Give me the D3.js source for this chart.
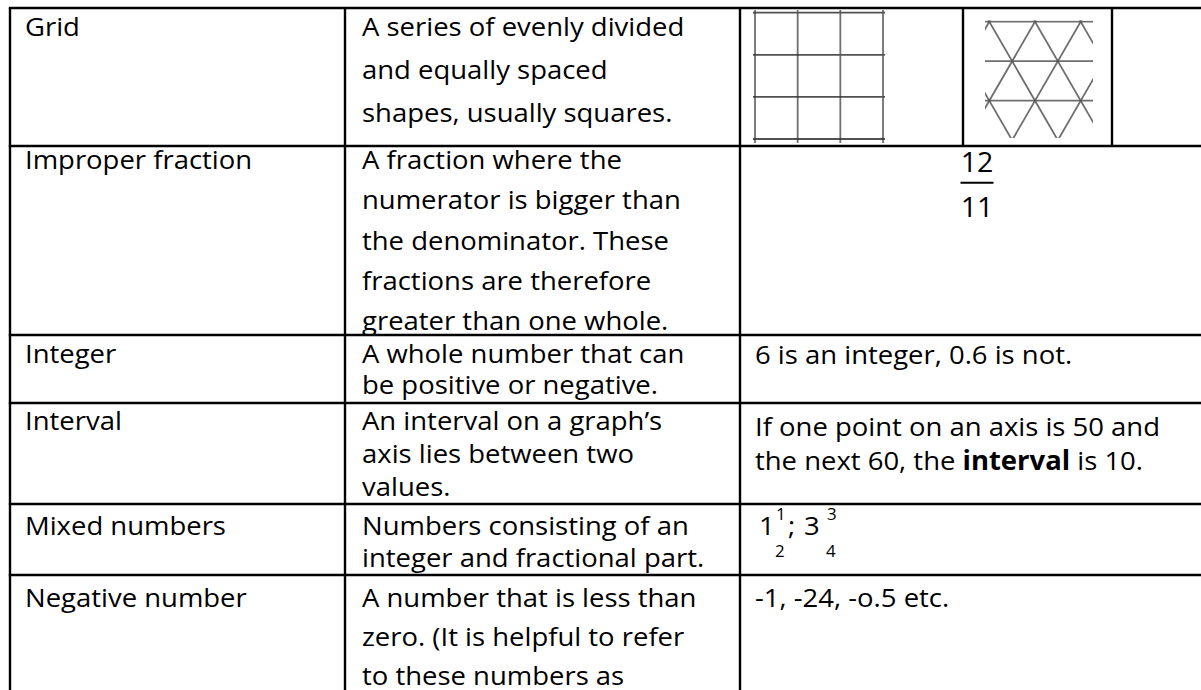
<!DOCTYPE html>
<html><head><meta charset="utf-8">
<script src="https://cdn.jsdelivr.net/npm/d3@7"></script>
<style>html,body{margin:0;padding:0;background:#fff;overflow:hidden}</style>
</head><body>
<svg id="c" width="1201" height="690"></svg>
<script>
// ---- data ----
const terms = ["Grid","Improper fraction","Integer","Interval","Mixed numbers","Negative number"];
const definitions = [
  ["A series of evenly divided","and equally spaced","shapes, usually squares."],
  ["A fraction where the","numerator is bigger than","the denominator. These","fractions are therefore","greater than one whole."],
  ["A whole number that can","be positive or negative."],
  ["An interval on a graph\u2019s","axis lies between two","values."],
  ["Numbers consisting of an","integer and fractional part."],
  ["A number that is less than","zero. (It is helpful to refer","to these numbers as"]
];
const integerExample = ["6 is an integer, 0.6 is not."];
const intervalExample = [
  [{t:"If one point on an axis is 50 and"}],
  [{t:"the next 60, the "},{t:"interval",b:true},{t:" is 10."}]
];
const negativeExample = ["-1, -24, -o.5 etc."];
const improperNumerator = "12", improperDenominator = "11";
const mixedNumbers = [{whole:"1",num:"1",den:"2",sep:";"},{whole:"3",num:"3",den:"4",sep:""}];
const squareGridDivisions = 3;
const triangleRowCount = 4;

// ---- layout ----
const W = 1201, H = 690;
const rowEdges = [8,146,335,403,504,575,720];
const colEdges = [10,345,740,1240];
const firstBase = [36,169,363,430,535,607];
const lineGap   = [43,40.3,31,33,32,39];
const FONT = "'Open Sans','Noto Sans',sans-serif";
const FS = 26;

const svg = d3.select("#c");
const col = d3.scaleOrdinal().domain([0,1,2]).range([25,362,755]);

// horizontal scale to emulate the narrower original UI font
const m = svg.append("text").attr("font-family",FONT).attr("font-size",FS).text("numerator is bigger than");
const m2 = svg.append("text").attr("font-family",FONT).attr("font-size",FS).text("If one point on an axis is 50 and");
const sx = ((315/m.node().getComputedTextLength()) + (410/m2.node().getComputedTextLength()))/2;
m.remove(); m2.remove();

function txt(g, x, y, s, opts={}) {
  return g.append("text")
    .attr("transform",`translate(${x},${y}) scale(${sx},1)`)
    .attr("font-family",FONT).attr("font-size",opts.fs||FS)
    .attr("font-weight",opts.b?"bold":"normal")
    .attr("text-anchor",opts.anchor||"start")
    .attr("fill","#000").text(s);
}

const gText = svg.append("g");
terms.forEach((t,i)=> txt(gText, col(0), firstBase[i], t));
definitions.forEach((lines,i)=> lines.forEach((l,j)=> txt(gText, col(1), firstBase[i]+j*lineGap[i], l)));

integerExample.forEach((l,j)=> txt(gText, col(2), 364+j*33, l));
intervalExample.forEach((parts,j)=>{
  const t = gText.append("text")
    .attr("transform",`translate(${col(2)},${436+j*34}) scale(${sx},1)`)
    .attr("font-family",FONT).attr("font-size",FS).attr("fill","#000");
  parts.forEach(p=> t.append("tspan").attr("font-weight",p.b?"bold":"normal").text(p.t));
});
negativeExample.forEach((l,j)=> txt(gText, col(2), 607+j*39, l));

// improper fraction
const fx = 977;
txt(gText, fx, 171.7, improperNumerator, {anchor:"middle", fs:27});
svg.append("line").attr("x1",fx-16.5).attr("x2",fx+16.5).attr("y1",182.7).attr("y2",182.7)
  .attr("stroke","#000").attr("stroke-width",2);
txt(gText, fx, 217, improperDenominator, {anchor:"middle", fs:27});

// mixed numbers
const mxScale = d3.scaleOrdinal().domain([0,1]).range([759,804]);
const supOffset = [17,23], subOffset = [16,22];
mixedNumbers.forEach((d,i)=>{
  const x = mxScale(i);
  txt(gText, x, 535, d.whole);
  txt(gText, x+supOffset[i], 519.5, d.num, {fs:16});
  txt(gText, x+subOffset[i], 557, d.den, {fs:16});
  if (d.sep) txt(gText, x+29, 535, d.sep);
});

// ---- square grid image ----
const gs = svg.append("g").attr("stroke","#555").attr("stroke-width",1.8).attr("stroke-opacity",0.85);
const sgx = d3.scaleLinear().domain([0,squareGridDivisions]).range([755,883]);
const sgy = d3.scaleLinear().domain([0,squareGridDivisions]).range([12.7,139]);
d3.range(squareGridDivisions+1).forEach(i=>{
  gs.append("line").attr("x1",sgx(i)).attr("x2",sgx(i)).attr("y1",10).attr("y2",143);
  gs.append("line").attr("x1",753).attr("x2",885).attr("y1",sgy(i)).attr("y2",sgy(i)).attr("stroke","#333");
});

// ---- triangle grid image ----
svg.append("clipPath").attr("id","triclip").append("rect")
  .attr("x",985).attr("y",20.5).attr("width",108).attr("height",117.5);
const gt = svg.append("g").attr("clip-path","url(#triclip)")
  .attr("stroke","#555").attr("stroke-width",1.8).attr("stroke-opacity",0.85).attr("fill","none");
const tx = d3.scaleLinear().domain([0,1]).range([989.3,1035]);
const ty = d3.scaleLinear().domain([0,1]).range([21.7,61.2]);
d3.range(triangleRowCount).forEach(k=>{
  gt.append("line").attr("x1",980).attr("x2",1100).attr("y1",ty(k)).attr("y2",ty(k));
});
d3.range(-5,8).forEach(j=>{
  gt.append("line").attr("x1",tx(j-0.5)).attr("y1",ty(-1)).attr("x2",tx(j+2.5)).attr("y2",ty(5));
  gt.append("line").attr("x1",tx(j+0.5)).attr("y1",ty(-1)).attr("x2",tx(j-2.5)).attr("y2",ty(5));
});

// ---- table borders ----
const gb = svg.append("g").attr("stroke","#000").attr("stroke-width",2.4);
rowEdges.slice(0,-1).forEach(y=> gb.append("line").attr("x1",colEdges[0]-1.2).attr("x2",W).attr("y1",y).attr("y2",y));
colEdges.slice(0,-1).forEach(x=> gb.append("line").attr("x1",x).attr("x2",x).attr("y1",rowEdges[0]).attr("y2",H));
[963,1112].forEach(x=> gb.append("line").attr("x1",x).attr("x2",x).attr("y1",rowEdges[0]).attr("y2",rowEdges[1]));
</script>
</body></html>
